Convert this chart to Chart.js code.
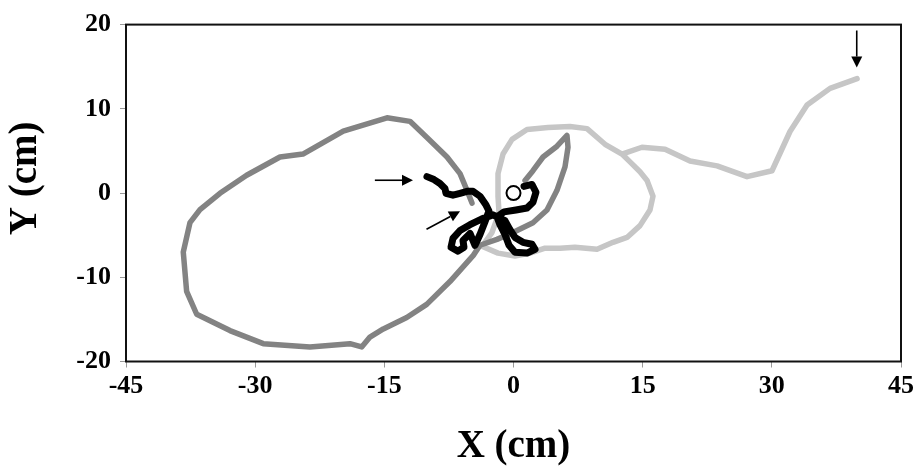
<!DOCTYPE html>
<html>
<head>
<meta charset="utf-8">
<script src="https://cdn.jsdelivr.net/npm/chart.js@4/dist/chart.umd.min.js"></script>
<style>
  html, body { margin: 0; padding: 0; background: #ffffff; }
  #wrap { width: 919px; height: 470px; position: relative; }
</style>
</head>
<body>
<div id="wrap"><canvas id="c"></canvas></div>
<script>
// ---- Data (cm) ----
const xTicks = [-45, -30, -15, 0, 15, 30, 45];
const yTicks = [-20, -10, 0, 10, 20];

// Dark grey trajectory
const darkX = [1.34, 2.26, 3.43, 5.05, 6.21, 6.33, 5.98, 5.05, 3.89, 2.26, -0.06, -1.92, -3.89, -4.67, -7.38, -10.08, -12.4, -15.12, -16.67, -17.63, -18.99, -23.64, -29.06, -32.93, -36.79, -37.96, -38.35, -37.57, -36.41, -34.09, -30.99, -27.12, -24.45, -19.77, -14.69, -12.02, -10.05, -7.72, -6.21, -5.40, -4.82];
const darkY = [1.48, 2.65, 4.28, 5.56, 6.84, 5.44, 3.11, 0.32, -2.01, -3.52, -4.69, -5.50, -6.20, -7.40, -10.51, -13.22, -14.78, -16.13, -17.10, -18.27, -17.88, -18.27, -17.88, -16.33, -14.39, -11.67, -7.01, -3.52, -1.97, -0.03, 2.11, 4.28, 4.63, 7.34, 8.93, 8.51, 6.61, 4.28, 2.30, 0.32, -1.19];

// Light grey trajectory
const lightX = [12.60, 10.63, 8.54, 6.56, 4.01, 1.57, -0.17, -1.22, -1.80, -1.80, -1.68, -2.50, -3.66, -1.80, 0.17, 1.92, 3.66, 5.40, 7.14, 9.70, 11.56, 13.18, 14.69, 15.85, 16.20, 15.51, 14.69, 13.53, 12.60, 14.92, 17.60, 20.50, 23.64, 27.12, 30.02, 32.11, 34.09, 36.76, 39.90];
const lightY = [4.63, 5.79, 7.65, 7.89, 7.77, 7.54, 6.37, 4.63, 2.30, -0.38, -2.36, -4.69, -6.32, -7.13, -7.48, -7.13, -6.55, -6.55, -6.43, -6.67, -5.85, -5.27, -3.87, -2.01, -0.38, 1.49, 2.53, 3.70, 4.63, 5.44, 5.21, 3.81, 3.23, 1.95, 2.65, 7.31, 10.45, 12.43, 13.59];

// Black trajectory
const blackX = [1.22, 2.15, 2.61, 2.26, 1.57, 0.29, -1.10, -1.92, -1.57, -0.99, -0.52, 0.17, 1.57, 2.50, 2.15, 1.10, 0.17, -0.41, -0.99, -2.38, -3.66, -5.05, -6.21, -7.03, -7.26, -6.45, -5.75, -5.87, -5.05, -4.47, -3.89, -3.31, -2.85, -3.19, -3.89, -4.70, -5.40, -6.21, -7.03, -7.84, -7.96, -8.54, -9.23, -10.05];
const blackY = [0.79, 1.02, 0.09, -1.08, -1.78, -2.01, -2.24, -2.82, -3.75, -4.92, -6.20, -7.02, -7.13, -6.67, -6.08, -5.85, -5.27, -4.34, -3.29, -2.59, -3.06, -3.76, -4.45, -5.39, -6.43, -6.90, -6.43, -5.62, -4.80, -6.20, -4.92, -3.41, -2.13, -1.43, -0.38, 0.20, 0.20, -0.03, -0.26, -0.03, 0.55, 1.14, 1.60, 1.95];

// Start marker
const startX = [0];
const startY = [0];

// Arrows: [fromX, fromY, toX, toY]
const arrowFromX = [-16.1, -10.1, 39.86];
const arrowFromY = [1.52, -4.30, 19.3];
const arrowToX = [-11.67, -6.21, 39.86];
const arrowToY = [1.52, -2.16, 14.9];

function pts(xs, ys) { return xs.map((x, i) => ({ x: x, y: ys[i] })); }

const frame = {
  id: 'frame',
  afterDatasetsDraw(chart) {
    const { ctx, chartArea: a, scales } = chart;
    ctx.save();
    ctx.strokeStyle = '#000';
    ctx.fillStyle = '#000';
    ctx.lineWidth = 1.6;
    for (let i = 0; i < arrowFromX.length; i++) {
      const x1 = scales.x.getPixelForValue(arrowFromX[i]);
      const y1 = scales.y.getPixelForValue(arrowFromY[i]);
      const x2 = scales.x.getPixelForValue(arrowToX[i]);
      const y2 = scales.y.getPixelForValue(arrowToY[i]);
      const ang = Math.atan2(y2 - y1, x2 - x1);
      const hl = 11, hw = 5.5;
      const bx = x2 - hl * Math.cos(ang), by = y2 - hl * Math.sin(ang);
      ctx.beginPath();
      ctx.moveTo(x1, y1);
      ctx.lineTo(bx, by);
      ctx.stroke();
      ctx.beginPath();
      ctx.moveTo(x2, y2);
      ctx.lineTo(bx + hw * Math.sin(ang), by - hw * Math.cos(ang));
      ctx.lineTo(bx - hw * Math.sin(ang), by + hw * Math.cos(ang));
      ctx.closePath();
      ctx.fill();
    }
    ctx.strokeStyle = '#111';
    ctx.lineWidth = 2;
    ctx.strokeRect(a.left, a.top, a.right - a.left, a.bottom - a.top);
    ctx.restore();
  }
};

const tickFont = { family: "'Liberation Serif', 'Times New Roman', serif", size: 26, weight: 'bold' };
const titleFont = { family: "'Liberation Serif', 'Times New Roman', serif", size: 39, weight: 'bold' };

new Chart(document.getElementById('c'), {
  type: 'scatter',
  data: {
    datasets: [
      { label: 'light', data: pts(lightX, lightY), showLine: true, borderColor: '#c6c6c6', borderWidth: 5.5, pointRadius: 0, borderCapStyle: 'round', borderJoinStyle: 'round', order: 4 },
      { label: 'dark', data: pts(darkX, darkY), showLine: true, borderColor: '#838383', borderWidth: 5.5, pointRadius: 0, borderCapStyle: 'round', borderJoinStyle: 'round', order: 3 },
      { label: 'black', data: pts(blackX, blackY), showLine: true, borderColor: '#000000', borderWidth: 7, pointRadius: 0, borderCapStyle: 'round', borderJoinStyle: 'round', order: 2 },
      { label: 'start', data: pts(startX, startY), showLine: false, pointRadius: 7, pointBackgroundColor: '#ffffff', pointBorderColor: '#000000', pointBorderWidth: 2, order: 1 }
    ]
  },
  options: {
    responsive: true,
    maintainAspectRatio: false,
    animation: false,
    events: [],
    layout: { padding: { left: 0, right: 18, top: 18, bottom: 0 } },
    plugins: { legend: { display: false }, tooltip: { enabled: false } },
    scales: {
      x: {
        type: 'linear', min: -45, max: 45,
        afterBuildTicks(s) { s.ticks = xTicks.map(v => ({ value: v })); },
        afterFit(s) { s.height = 108.5; },
        ticks: { font: tickFont, color: '#000', padding: 3 },
        grid: { drawOnChartArea: false, drawTicks: true, tickLength: 6, color: '#999' },
        border: { display: false },
        title: { display: true, text: 'X (cm)', font: titleFont, color: '#000', padding: { top: 1, bottom: 0 } }
      },
      y: {
        type: 'linear', min: -20, max: 20,
        afterBuildTicks(s) { s.ticks = yTicks.map(v => ({ value: v })); },
        afterFit(s) { s.width = 126; },
        ticks: { font: tickFont, color: '#000', padding: 9 },
        grid: { drawOnChartArea: false, drawTicks: true, tickLength: 6, color: '#999' },
        border: { display: false },
        title: { display: true, text: '   Y (cm)', font: titleFont, color: '#000', padding: { top: 3, bottom: 0 } }
      }
    }
  },
  plugins: [frame]
});
</script>
</body>
</html>
